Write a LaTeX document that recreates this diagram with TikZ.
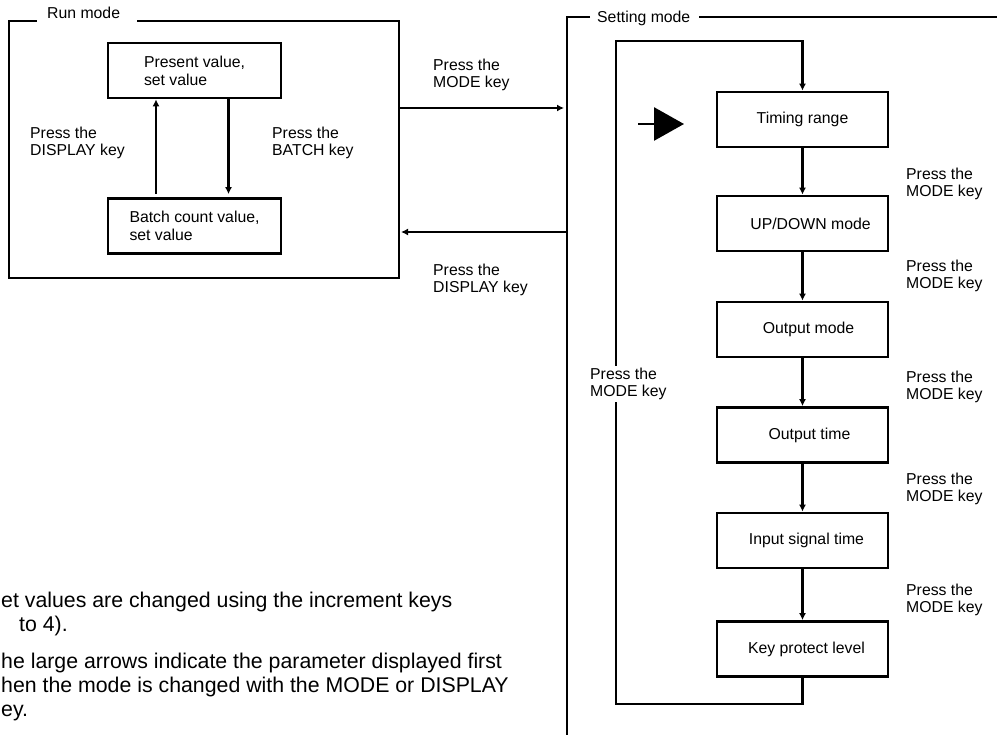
\documentclass[tikz,border=0pt]{standalone}
\usepackage{fontspec}
\setmainfont{Liberation Sans}
\usetikzlibrary{arrows.meta}
\newcommand\lblfont{\fontsize{15.8}{17.8}\selectfont}
\newcommand\notefont{\fontsize{21.3}{23.8}\selectfont}

\begin{document}
\begin{tikzpicture}[x=1pt, y=-1pt,
	modebox/.style={draw, line width=2.7pt, minimum width=171pt, minimum height=55pt, align=left, font=\lblfont},
	frame/.style={line width=2.7pt},
	flow/.style={line width=2.7pt, -{Latex[length=7pt,width=7pt]}},
	lbl/.style={align=left, inner sep=0pt, anchor=west, font=\lblfont},
	note/.style={align=left, inner sep=0pt, anchor=west, font=\notefont}]
	\useasboundingbox (0,0) rectangle (997,735);

	% run mode
	\node[lbl] (runlbl) at (47,13) {Run mode};
	\draw[frame] (137,21) -| (399,278) -| (9,21) -- (37,21);
	\node[modebox, minimum width=173pt] (present) at (194.5,70.5) {Present value,\\set value};
	\node[modebox, minimum width=173pt] (batch) at (194.5,226) {Batch count value,\\set value};
	\draw[flow, shorten <=3pt] ([xshift=-38.5pt]batch.north) -- ([xshift=-38.5pt]present.south);
	\draw[flow, shorten >=3pt] ([xshift=34pt]present.south) -- ([xshift=34pt]batch.north);
	\node[lbl] (displbl) at (30,143) {Press the\\DISPLAY key};
	\node[lbl] (batchlbl) at (272,143) {Press the\\BATCH key};

	% between the modes
	\coordinate (runE) at (399,108);
	\coordinate (setW) at (567,108);
	\coordinate (setW2) at (567,232);
	\coordinate (runE2) at (399,232);
	\draw[flow, shorten >=3pt] (runE) -- (setW);
	\draw[flow, shorten >=2pt] (setW2) -- (runE2);
	\node[lbl] (modelbl) at (433,75) {Press the\\MODE key};
	\node[lbl] (backlbl) at (433,280) {Press the\\DISPLAY key};

	% setting mode
	\node[lbl] (setlbl) at (597,18) {Setting mode};
	\draw[frame] (590,17) -- (567,17) -- (567,740);
	\draw[frame] (699,17) -- (1000,17);
	\node[modebox] (timing) at (802.5,119.5) {Timing range};
	\node[modebox] (updown) at (802.5,223.5) {\hspace*{16pt}UP/DOWN mode};
	\node[modebox] (outmode) at (802.5,329.5) {\hspace*{12pt}Output mode};
	\node[modebox] (outtime) at (802.5,435) {\hspace*{14pt}Output time};
	\node[modebox] (insig) at (802.5,540.5) {\hspace*{8pt}Input signal time};
	\node[modebox] (keyprot) at (802.5,649) {\hspace*{8pt}Key protect level};
	\foreach \a/\b in {timing/updown, updown/outmode, outmode/outtime, outtime/insig, insig/keyprot}
		\draw[flow] (\a) -- (\b);
	\foreach \n/\y in {1/184, 2/276, 3/387, 4/489, 5/600}
		\node[lbl] (steplbl\n) at (906,\y) {Press the\\MODE key};
	\draw[flow] (keyprot.south) -- ++(0,26) -| (616,41) -| (timing.north);
	\node[lbl, fill=white, inner ysep=2pt] (looplbl) at (590,384) {Press the\\MODE key};

	% first parameter
	\coordinate (firstS) at (638,124);
	\coordinate (firstE) at (684,124);
	\draw[line width=2.7pt, -{Triangle[length=30pt,width=33pt]}] (firstS) -- (firstE);

	% notes
	\node[note] (note1) at (1,614) {et values are changed using the increment keys\\\hspace*{18pt}to 4).};
	\node[note] (note2) at (1,687) {he large arrows indicate the parameter displayed first\\hen the mode is changed with the MODE or DISPLAY\\ey.};
\end{tikzpicture}
\end{document}
